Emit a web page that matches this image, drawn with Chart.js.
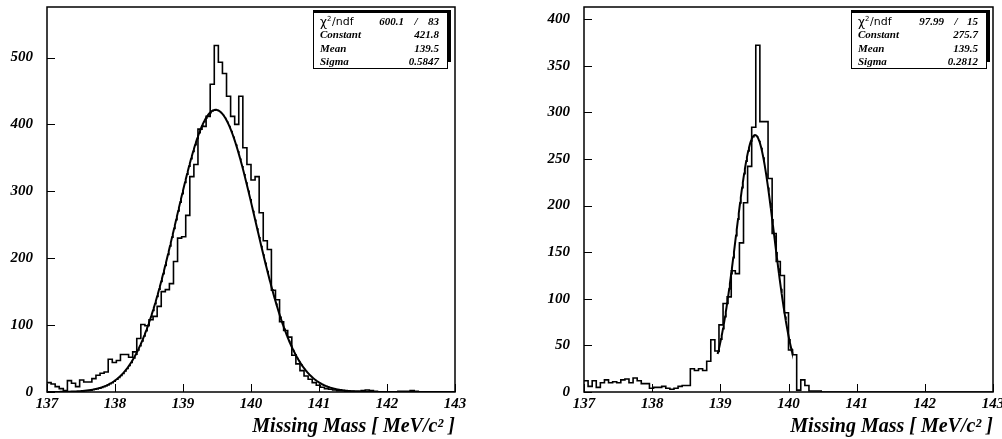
<!DOCTYPE html>
<html lang="en">
<head>
<meta charset="UTF-8">
<title>Missing Mass</title>
<script src="https://cdn.jsdelivr.net/npm/chart.js"></script>
<style>
  body { margin: 0; background: #fff; }
  .panel { position: absolute; top: 0; width: 501px; height: 439px; }
</style>
</head>
<body>
<div class="panel" style="left:0"><canvas id="left" width="501" height="439"></canvas></div>
<div class="panel" style="left:501px"><canvas id="right" width="501" height="439"></canvas></div>
<script>
// histogram binning: 100 bins of 0.06 MeV from 137 to 143
const binMin = 137;
const binWidth = 0.06;
const xTicks = [137, 138, 139, 140, 141, 142, 143];

// left histogram
const leftCounts = [
  14, 12, 8, 5, 2, 17, 13, 8, 18, 15,
  15, 20, 25, 28, 30, 49, 44, 47, 56, 56,
  52, 60, 80, 101, 99, 108, 113, 128, 150, 153,
  162, 195, 230, 232, 264, 322, 340, 393, 397, 412,
  460, 518, 493, 476, 442, 412, 400, 442, 365, 340,
  317, 322, 268, 226, 213, 152, 138, 105, 92, 82,
  55, 42, 32, 24, 19, 14, 10, 7, 5, 4,
  3, 2, 2, 1, 1, 1, 1, 2, 3, 2,
  1, 0, 0, 0, 0, 0, 1, 1, 1, 2,
  1, 0, 0, 0, 0, 0, 0, 0, 0, 0
];
const leftYTicks = [0, 100, 200, 300, 400, 500];
const leftYMax = 575.5;
const leftFit = [421.8, 139.48, 0.5847];      // constant, mean, sigma
const leftFitRange = [137, 143];
const leftChi = ['600.1', '83'];
const leftStats = [['Constant', '421.8'], ['Mean', '139.5'], ['Sigma', '0.5847']];

// right histogram
const rightCounts = [
  12, 6, 12, 5, 10, 13, 10, 11, 10, 13,
  14, 10, 15, 12, 9, 9, 4, 5, 5, 6,
  4, 3, 4, 6, 7, 7, 25, 23, 25, 23,
  33, 56, 44, 72, 95, 102, 130, 127, 160, 203,
  242, 284, 372, 290, 290, 229, 170, 140, 125, 85,
  45, 40, 2, 13, 7, 1, 1, 1, 0, 0,
  0, 0, 0, 0, 0, 0, 0, 0, 0, 0,
  0, 0, 0, 0, 0, 0, 0, 0, 0, 0,
  0, 0, 0, 0, 0, 0, 0, 0, 0, 0,
  0, 0, 0, 0, 0, 0, 0, 0, 0, 0
];
const rightYTicks = [0, 50, 100, 150, 200, 250, 300, 350, 400];
const rightYMax = 413;
const rightFit = [275.7, 139.51, 0.2812];
const rightFitRange = [138.96, 140.06];
const rightChi = ['97.99', '15'];
const rightStats = [['Constant', '275.7'], ['Mean', '139.5'], ['Sigma', '0.2812']];

const serif = "'Liberation Serif', 'DejaVu Serif', serif";

function histPoints(counts) {
  const pts = counts.map((c, i) => ({ x: binMin + i * binWidth, y: c }));
  pts.push({ x: binMin + counts.length * binWidth, y: counts[counts.length - 1] });
  return pts;
}

// fitted gaussian drawn from the fit parameters shown in the stat box
function fitPoints(p, range) {
  const pts = [];
  for (let x = range[0]; x <= range[1] + 1e-9; x += 0.01) {
    pts.push({ x: x, y: p[0] * Math.exp(-0.5 * Math.pow((x - p[1]) / p[2], 2)) });
  }
  return pts;
}

// frame around the plot + inward tick marks
const framePlugin = {
  id: 'frame',
  afterDraw(chart) {
    const { ctx, chartArea: a, scales: { x, y } } = chart;
    ctx.save();
    ctx.strokeStyle = '#000';
    ctx.lineWidth = 1.5;
    ctx.strokeRect(a.left, a.top, a.right - a.left, a.bottom - a.top);
    ctx.lineWidth = 1;
    ctx.beginPath();
    x.ticks.forEach(t => {
      const px = Math.round(x.getPixelForValue(t.value)) + 0.5;
      ctx.moveTo(px, a.bottom);
      ctx.lineTo(px, a.bottom - 8);
    });
    y.ticks.forEach(t => {
      const py = Math.round(y.getPixelForValue(t.value)) + 0.5;
      ctx.moveTo(a.left, py);
      ctx.lineTo(a.left + 8, py);
    });
    ctx.stroke();
    ctx.restore();
  }
};

// fit statistics box in the top right corner
const statPlugin = {
  id: 'statbox',
  afterDraw(chart, args, o) {
    const ctx = chart.ctx;
    ctx.save();
    ctx.fillStyle = '#fff';
    ctx.fillRect(o.x0, o.y0, o.x1 - o.x0, o.y1 - o.y0);
    ctx.strokeStyle = '#000';
    ctx.lineWidth = 1;
    ctx.strokeRect(o.x0 + 0.5, o.y0 + 0.5, o.x1 - o.x0, o.y1 - o.y0);
    ctx.fillStyle = '#000';
    ctx.fillRect(o.x0, o.y0 - 2, o.x1 - o.x0 + 4, 2);
    ctx.fillRect(o.x1, o.y0 - 2, 4, o.y1 - o.y0 - 4);

    const rows = [o.y0 + 10, o.y0 + 23, o.y0 + 37, o.y0 + 50];
    ctx.textBaseline = 'middle';
    // chi2 / ndf row
    ctx.textAlign = 'left';
    ctx.font = "12px 'DejaVu Sans', sans-serif";
    ctx.fillText('\u03c7', o.labelX, rows[0] + 1);
    ctx.font = "7px 'DejaVu Sans', sans-serif";
    ctx.fillText('2', o.labelX + 7, rows[0] - 3);
    ctx.font = "11px 'DejaVu Sans', sans-serif";
    ctx.fillText('/ndf', o.labelX + 12, rows[0]);
    ctx.font = 'italic bold 11px ' + serif;
    ctx.textAlign = 'right';
    ctx.fillText(o.chi[0], o.chiX, rows[0]);
    ctx.textAlign = 'center';
    ctx.fillText('/', o.slashX, rows[0]);
    ctx.textAlign = 'right';
    ctx.fillText(o.chi[1], o.valueX, rows[0]);
    o.stats.forEach((s, i) => {
      ctx.textAlign = 'left';
      ctx.fillText(s[0], o.labelX, rows[i + 1]);
      ctx.textAlign = 'right';
      ctx.fillText(s[1], o.valueX, rows[i + 1]);
    });
    ctx.restore();
  }
};

function makeChart(id, counts, yTicks, yMax, fit, fitRange, yAxisWidth, rightPad, stat) {
  const tickFont = { family: serif, size: 15, style: 'italic', weight: 'bold' };
  return new Chart(document.getElementById(id), {
    type: 'line',
    data: {
      datasets: [
        {
          data: histPoints(counts),
          stepped: true,
          borderColor: '#000',
          borderWidth: 1.6,
          pointRadius: 0,
          fill: false
        },
        {
          data: fitPoints(fit, fitRange),
          borderColor: '#000',
          borderWidth: 2,
          pointRadius: 0,
          tension: 0,
          fill: false
        }
      ]
    },
    options: {
      responsive: false,
      animation: false,
      events: [],
      layout: { padding: { left: 0, top: 7, right: rightPad, bottom: 0 } },
      plugins: {
        legend: { display: false },
        tooltip: { enabled: false },
        statbox: stat
      },
      scales: {
        x: {
          type: 'linear',
          min: 137,
          max: 143,
          grid: { display: false, drawTicks: false },
          border: { display: false },
          afterBuildTicks: s => { s.ticks = xTicks.map(v => ({ value: v })); },
          afterFit: s => { s.height = 47; s.paddingLeft = 0; s.paddingRight = 0; },
          ticks: {
            color: '#000',
            font: tickFont,
            padding: 3,
            maxRotation: 0,
            autoSkip: false
          },
          title: {
            display: true,
            text: 'Missing Mass [ MeV/c\u00b2 ]',
            align: 'end',
            color: '#000',
            font: { family: serif, size: 20, style: 'italic', weight: 'bold' },
            padding: { top: 0, bottom: 0 }
          }
        },
        y: {
          min: 0,
          max: yMax,
          grid: { display: false, drawTicks: false },
          border: { display: false },
          afterBuildTicks: s => { s.ticks = yTicks.map(v => ({ value: v })); },
          afterFit: s => { s.width = yAxisWidth; s.paddingTop = 0; s.paddingBottom = 0; },
          ticks: {
            color: '#000',
            font: tickFont,
            padding: 14,
            autoSkip: false
          }
        }
      }
    },
    plugins: [framePlugin, statPlugin]
  });
}

makeChart('left', leftCounts, leftYTicks, leftYMax, leftFit, leftFitRange, 47, 46, {
  x0: 313, y0: 12, x1: 447, y1: 68,
  labelX: 320, valueX: 439, chiX: 404, slashX: 416,
  chi: leftChi, stats: leftStats
});

makeChart('right', rightCounts, rightYTicks, rightYMax, rightFit, rightFitRange, 83, 9, {
  x0: 350, y0: 12, x1: 485, y1: 68,
  labelX: 357, valueX: 477, chiX: 443, slashX: 455,
  chi: rightChi, stats: rightStats
});
</script>
</body>
</html>
